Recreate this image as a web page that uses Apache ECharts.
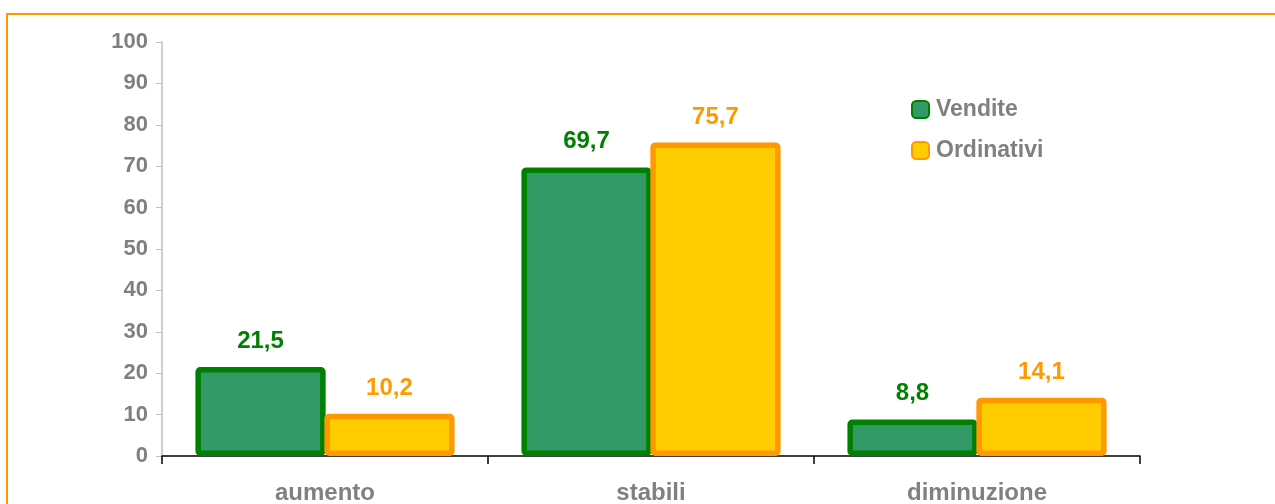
<!DOCTYPE html>
<html><head><meta charset="utf-8">
<script src="https://cdn.jsdelivr.net/npm/echarts@6/dist/echarts.min.js"></script>
<style>html,body{margin:0;padding:0;background:#fff;}#frame{position:absolute;left:6px;top:13px;width:1275px;height:500px;border-left:2px solid #FF9900;border-top:2px solid #FF9900;}#c{position:absolute;left:0;top:0;width:1275px;height:504px;}</style>
</head><body><div id="frame"></div><div id="c"></div>
<script>
const categories = ['aumento', 'stabili', 'diminuzione'];
const vendite = [21.5, 69.7, 8.8];
const ordinativi = [10.2, 75.7, 14.1];
const yTicks = [0, 10, 20, 30, 40, 50, 60, 70, 80, 90, 100];

const chart = echarts.init(document.getElementById('c'));
const fmt = p => String(p.value).replace('.', ',');
const font = 'Liberation Sans, Arial, sans-serif';
chart.setOption({
  animation: false,
  textStyle: {fontFamily: font},
  grid: {left: 162, right: 135, top: 42, bottom: 48, containLabel: false, outerBoundsMode: 'none'},
  legend: {
    orient: 'vertical', left: 906, top: 93, itemGap: 18,
    itemWidth: 17, itemHeight: 17, icon: 'roundRect',
    textStyle: {color: '#808080', fontWeight: 'bold', fontSize: 23, fontFamily: font, padding: [0, 0, 0, 2]}
  },
  xAxis: {
    type: 'category', data: categories,
    axisLine: {lineStyle: {color: '#000', width: 1.5}},
    axisTick: {show: true, length: 8, lineStyle: {color: '#000', width: 1.5}},
    axisLabel: {color: '#808080', fontWeight: 'bold', fontSize: 24, margin: 25, fontFamily: font}
  },
  yAxis: {
    type: 'value', min: yTicks[0], max: yTicks[yTicks.length - 1], interval: 10,
    axisLine: {show: true, lineStyle: {color: '#BFBFBF', width: 1.5}},
    axisTick: {show: true, length: 6, lineStyle: {color: '#BFBFBF'}},
    splitLine: {show: false},
    axisLabel: {color: '#808080', fontWeight: 'bold', fontSize: 22, margin: 14, fontFamily: font}
  },
  series: [
    {
      name: 'Vendite', type: 'bar', data: vendite, barGap: '-1%', barCategoryGap: '20.5%',
      itemStyle: {color: '#339966', borderColor: '#008000', borderWidth: 5.5, borderRadius: 2},
      label: {show: true, position: 'top', distance: 14, color: '#008000', fontWeight: 'bold', fontSize: 24, formatter: fmt, fontFamily: font}
    },
    {
      name: 'Ordinativi', type: 'bar', data: ordinativi,
      itemStyle: {color: '#FFCC00', borderColor: '#FF9900', borderWidth: 5.5, borderRadius: 2},
      label: {show: true, position: 'top', distance: 13, color: '#FF9900', fontWeight: 'bold', fontSize: 24, formatter: fmt, fontFamily: font}
    }
  ]
});
</script>
</body></html>
